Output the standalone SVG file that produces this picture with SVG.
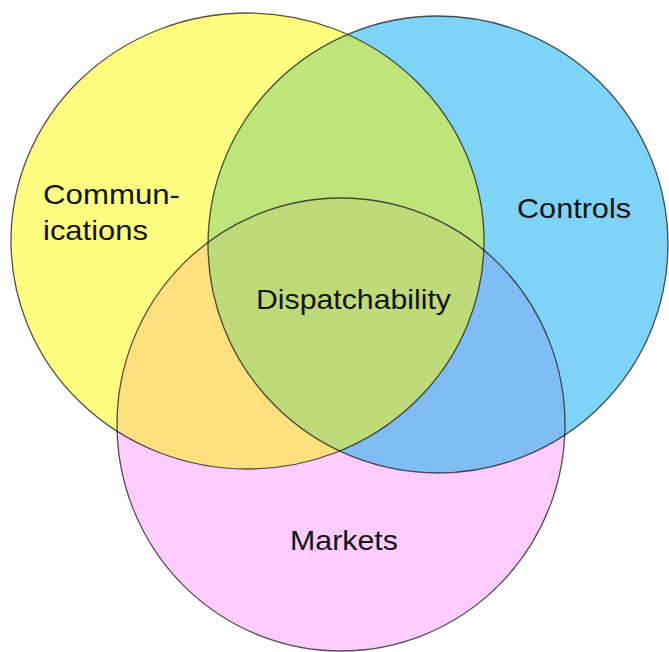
<svg xmlns="http://www.w3.org/2000/svg" width="669" height="652" viewBox="0 0 669 652">
  <defs>
    <style>
      .lbl { font-family: "Liberation Sans", Arial, sans-serif; font-size: 28.5px; fill: #141414; }
      .edge { fill: none; stroke: #1a1a1a; stroke-opacity: 0.75; stroke-width: 1.3; }
    </style>
    <clipPath id="clipY"><ellipse cx="247.5" cy="241" rx="236.5" ry="228"/></clipPath>
    <clipPath id="clipB"><ellipse cx="438" cy="244.5" rx="230" ry="228.5"/></clipPath>
  </defs>
  <rect width="669" height="652" fill="#ffffff"/>

  <g id="node-communications">
    <ellipse cx="247.5" cy="241" rx="236.5" ry="228" fill="#FFFD80"/>
    <text class="lbl" x="43" y="203.5" textLength="137" lengthAdjust="spacingAndGlyphs">Commun-</text>
    <text class="lbl" x="43" y="240" textLength="105" lengthAdjust="spacingAndGlyphs">ications</text>
  </g>

  <g id="node-controls">
    <ellipse cx="438" cy="244.5" rx="230" ry="228.5" fill="#7DD4F7"/>
    <text class="lbl" x="517" y="218" textLength="114" lengthAdjust="spacingAndGlyphs">Controls</text>
  </g>

  <g id="node-markets">
    <ellipse cx="341" cy="424.5" rx="224" ry="226.5" fill="#FFCCFF"/>
    <text class="lbl" x="290" y="550" textLength="108" lengthAdjust="spacingAndGlyphs">Markets</text>
  </g>

  <g id="node-dispatchability">
    <ellipse cx="438" cy="244.5" rx="230" ry="228.5" fill="#BEE57A" clip-path="url(#clipY)"/>
    <ellipse cx="341" cy="424.5" rx="224" ry="226.5" fill="#FFE07E" clip-path="url(#clipY)"/>
    <ellipse cx="341" cy="424.5" rx="224" ry="226.5" fill="#80BDF5" clip-path="url(#clipB)"/>
    <g clip-path="url(#clipB)">
      <ellipse cx="341" cy="424.5" rx="224" ry="226.5" fill="#BFDB79" clip-path="url(#clipY)"/>
    </g>
    <text class="lbl" x="256" y="309" textLength="195" lengthAdjust="spacingAndGlyphs">Dispatchability</text>
  </g>

  <g id="connectors">
    <ellipse class="edge" cx="247.5" cy="241" rx="236.5" ry="228"/>
    <ellipse class="edge" cx="438" cy="244.5" rx="230" ry="228.5"/>
    <ellipse class="edge" cx="341" cy="424.5" rx="224" ry="226.5"/>
  </g>
</svg>
